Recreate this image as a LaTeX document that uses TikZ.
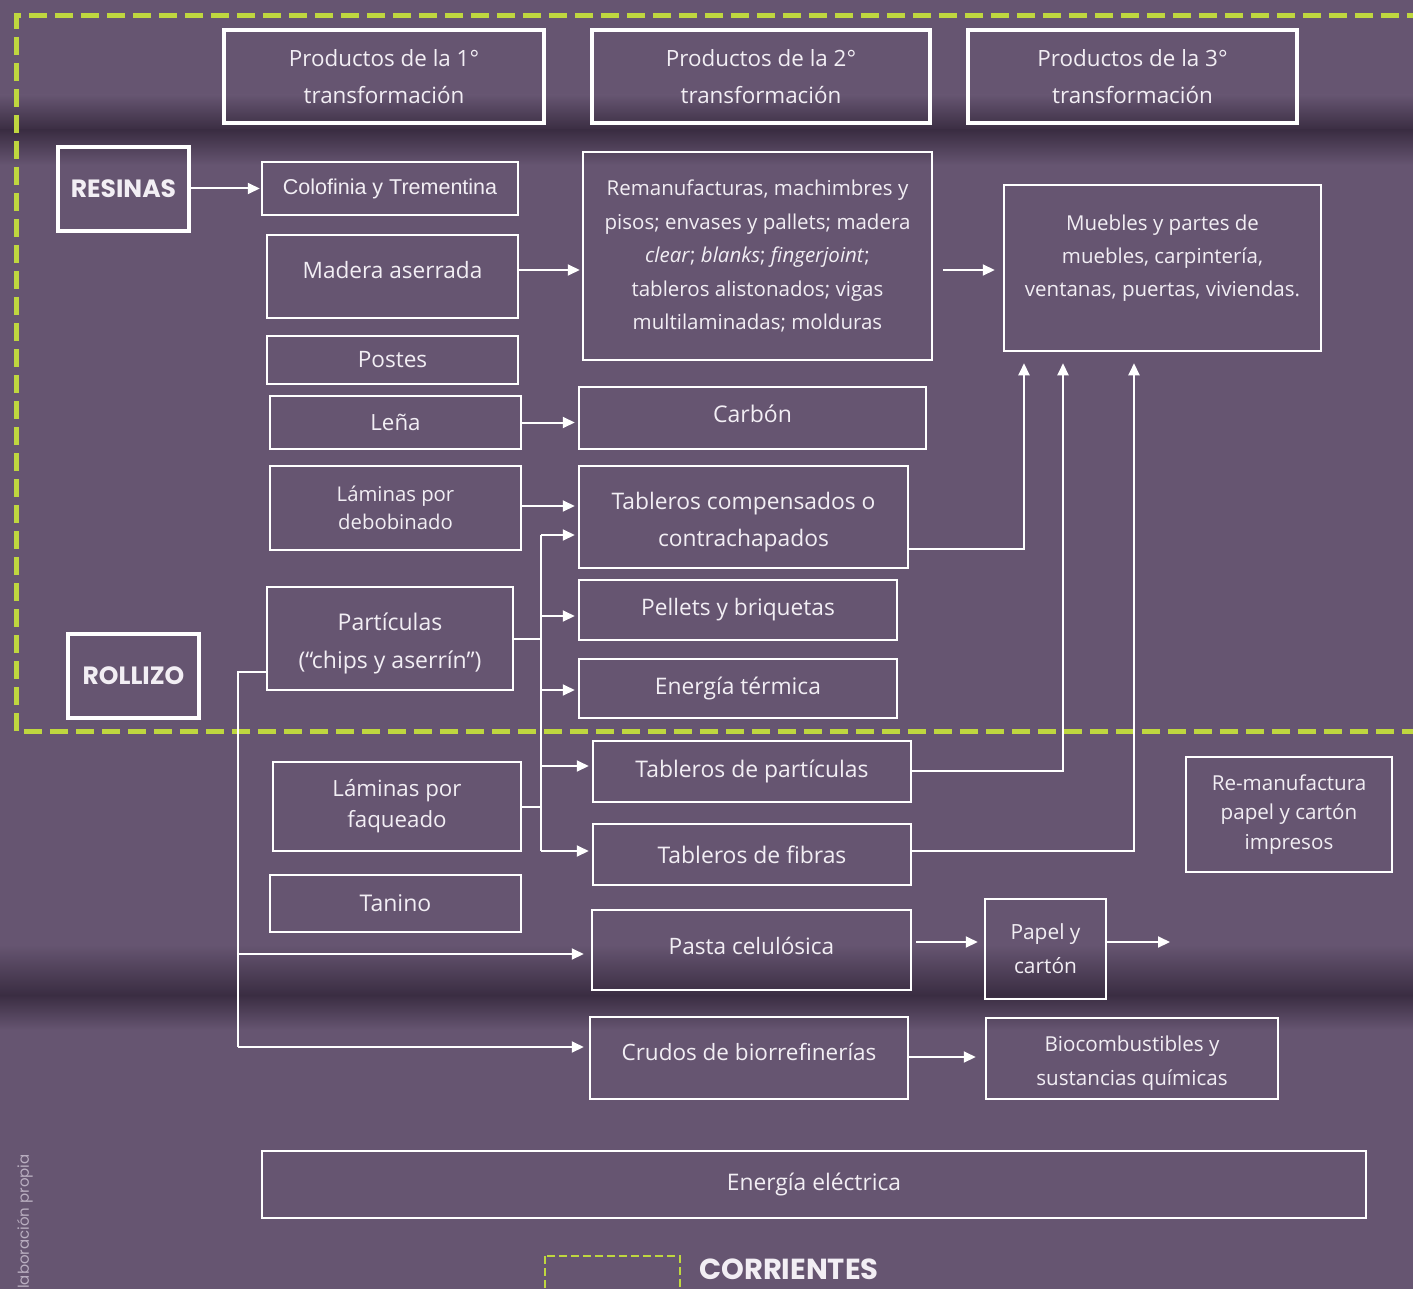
\documentclass[tikz,border=0pt]{standalone}
\usepackage{fontspec}
\setmainfont{Open Sans}
\newfontfamily\headfont{Poppins}
\newfontfamily\arialfont{Liberation Sans}
\usetikzlibrary{arrows.meta,calc}
\definecolor{bgc}{HTML}{665571}
\definecolor{darkc}{HTML}{3A2D42}
\definecolor{lime}{HTML}{BFD73F}
\definecolor{txt}{HTML}{F2EEF4}
\definecolor{credit}{HTML}{B9AEC0}
\begin{document}
\begin{tikzpicture}[x=1pt,y=-1pt,
  box/.style={draw=white, line width=2.5pt, text=txt, align=center, inner sep=0pt},
  hbox/.style={box, line width=4pt},
  kbox/.style={box, line width=4.5pt, font=\headfont\bfseries\fontsize{25}{28}\selectfont},
  fz/.style 2 args={font=\fontsize{#1}{#2}\selectfont},
  arr/.style={draw=white, line width=2pt, -{Triangle[length=12pt,width=11pt]}},
  ln/.style={draw=white, line width=2pt},
  zone/.style={draw=lime, line width=5pt, dash pattern=on 18pt off 8pt}
]
\useasboundingbox (0,0) rectangle (1413,1289);
% background
\fill[bgc] (0,0) rectangle (1413,1289);
\shade[top color=bgc, bottom color=darkc] (0,95) rectangle (1413,130);
\shade[top color=darkc, bottom color=bgc] (0,130) rectangle (1413,165);
\shade[top color=bgc, bottom color=darkc] (0,945) rectangle (1413,995);
\shade[top color=darkc, bottom color=bgc] (0,995) rectangle (1413,1030);

% zone
\draw[zone] (1425,16) -- (16,16) -- (16,731) -- (1425,731);

% header boxes
\node[hbox, fz={22.4}{37}, minimum width=320, minimum height=93] (h1) at (384,76.5) {Productos de la 1°\\transformación};
\node[hbox, fz={22.4}{37}, minimum width=338, minimum height=93] (h2) at (761,76.5) {Productos de la 2°\\transformación};
\node[hbox, fz={22.4}{37}, minimum width=329, minimum height=93] (h3) at (1132.5,76.5) {Productos de la 3°\\transformación};

% key boxes
\node[kbox, minimum width=131, minimum height=84] (res) at (123.5,189) {RESINAS};
\node[kbox, minimum width=131, minimum height=84] (rol) at (133.5,676) {ROLLIZO};

% first transformation
\node[box, font=\arialfont\fontsize{21.5}{24}\selectfont, minimum width=256, minimum height=53] (col) at (390,188.5) {Colofinia y Trementina};
\node[box, fz={22.6}{26}, text depth=14pt, minimum width=251, minimum height=83] (mad) at (392.5,276.5) {Madera aserrada};
\node[box, fz={22.6}{26}, minimum width=251, minimum height=48] (pos) at (392.5,360) {Postes};
\node[box, fz={22.3}{26}, minimum width=251, minimum height=53] (len) at (395.5,422.5) {Leña};
\node[box, fz={20.3}{28}, minimum width=251, minimum height=84] (deb) at (395.5,508) {Láminas por\\debobinado};
\node[box, fz={23}{38}, text height=65pt, minimum width=246, minimum height=103] (par) at (390,638.5) {Partículas\\(“chips y aserrín”)};
\node[box, fz={22.3}{31}, minimum width=248, minimum height=89] (faq) at (397,806.5) {Láminas por\\faqueado};
\node[box, fz={23}{26}, minimum width=251, minimum height=57] (tan) at (395.5,903.5) {Tanino};

% second transformation
\node[box, fz={20.5}{33.5}, minimum width=349, minimum height=208] (rem) at (757.5,256)
  {Remanufacturas, machimbres y\\pisos; envases y pallets; madera\\\textit{clear}; \textit{blanks}; \textit{fingerjoint};\\tableros alistonados; vigas\\multilaminadas; molduras};
\node[box, fz={23}{26}, text depth=8pt, minimum width=347, minimum height=62] (carb) at (752.5,418) {Carbón};
\node[box, fz={22.8}{37}, text height=64pt, minimum width=329, minimum height=102] (tc) at (743.5,517) {Tableros compensados o\\contrachapados};
\node[box, fz={22.7}{26}, minimum width=318, minimum height=60] (pel) at (738,610) {Pellets y briquetas};
\node[box, fz={22.8}{26}, minimum width=318, minimum height=59] (et) at (738,688.5) {Energía térmica};
\node[box, fz={22.9}{26}, minimum width=318, minimum height=61] (tp) at (752,771.5) {Tableros de partículas};
\node[box, fz={22.9}{26}, minimum width=318, minimum height=61] (tf) at (752,854.5) {Tableros de fibras};
\node[box, fz={22.6}{26}, text depth=8pt, minimum width=319, minimum height=80] (pas) at (751.5,950) {Pasta celulósica};
\node[box, fz={22.5}{26}, text depth=12pt, minimum width=318, minimum height=82] (cru) at (749,1058) {Crudos de biorrefinerías};

% third transformation
\node[box, fz={20.5}{33}, text depth=25pt, minimum width=317, minimum height=166] (mue) at (1162.5,268)
  {Muebles y partes de\\muebles, carpintería,\\ventanas, puertas, viviendas.};
\node[box, fz={20.6}{29.5}, minimum width=206, minimum height=115] (rman) at (1289,814.5)
  {Re-manufactura\\papel y cartón\\impresos};
\node[box, fz={20.9}{34}, minimum width=121, minimum height=100] (pap) at (1045.5,949) {Papel y\\cartón};
\node[box, fz={20.6}{34}, text height=58pt, minimum width=292, minimum height=81] (bio) at (1132,1058.5) {Biocombustibles y\\sustancias químicas};
\node[box, fz={22.8}{26}, minimum width=1104, minimum height=67] (ee) at (814,1184.5) {Energía eléctrica};

% connectors
\draw[arr, shorten >=1pt] (res.east |- col.west) -- (col.west);
\draw[arr, shorten >=2pt] (mad.east |- 0,270) -- (rem.west |- 0,270);
\draw[arr, shorten <=10pt, shorten >=8pt] (rem.east |- 0,270) -- (mue.west |- 0,270);
\draw[arr, shorten >=3pt] (len.east) -- (carb.west |- len.east);
\draw[arr, shorten >=3pt] (deb.east |- 0,506) -- (tc.west |- 0,506);

% particle bus
\coordinate (pb) at (541,638.5);
\draw[ln] (par.east) -- (pb);
\draw[ln] (541,535) -- (541,851);
\draw[ln] (faq.east) -- (faq.east -| pb);
\draw[arr, shorten >=3pt] (541,535) -- (tc.west |- 0,535);
\draw[arr, shorten >=3pt] (541,616) -- (pel.west |- 0,616);
\draw[arr, shorten >=3pt] (541,690) -- (et.west |- 0,690);
\draw[arr, shorten >=3pt] (541,766) -- (tp.west |- 0,766);
\draw[arr, shorten >=3pt] (541,851) -- (tf.west |- 0,851);

% left bus
\coordinate (lb) at (238,672);
\draw[ln] (par.west |- lb) -- (lb) -- (238,1047);
\draw[arr, shorten >=7pt] (238,954) -- (pas.west |- 0,954);
\draw[arr, shorten >=5pt] (238,1047) -- (cru.west |- 0,1047);

% to muebles
\draw[arr, shorten >=11pt] (tc.east |- 0,549) -- (1024,549) -- (mue.south -| 1024,0);
\draw[arr, shorten >=11pt] (tp.east |- 0,771) -- (1063,771) -- (mue.south -| 1063,0);
\draw[arr, shorten >=11pt] (tf.east |- 0,851) -- (1134,851) -- (mue.south -| 1134,0);

% lower chains
\draw[arr, shorten <=4pt, shorten >=6pt] (pas.east |- 0,942) -- (pap.west |- 0,942);
\coordinate (papout) at (1170,942);
\draw[arr] (pap.east |- papout) -- (papout);
\draw[arr, shorten >=9pt] (cru.east |- 0,1057) -- (bio.west |- 0,1057);

% legend
\draw[draw=lime, line width=2.5pt, dash pattern=on 8pt off 4pt] (545,1256) rectangle (680,1300);
\node[text=txt, anchor=base west, inner sep=0pt, font=\headfont\bfseries\fontsize{29}{32}\selectfont] (leg) at (699,1279) {CORRIENTES};

% credit
\node[rotate=90, anchor=south west, text=credit, inner sep=0pt, font=\headfont\fontsize{15}{17}\selectfont] (cred) at (33,1289) {laboración propia};
\end{tikzpicture}
\end{document}
